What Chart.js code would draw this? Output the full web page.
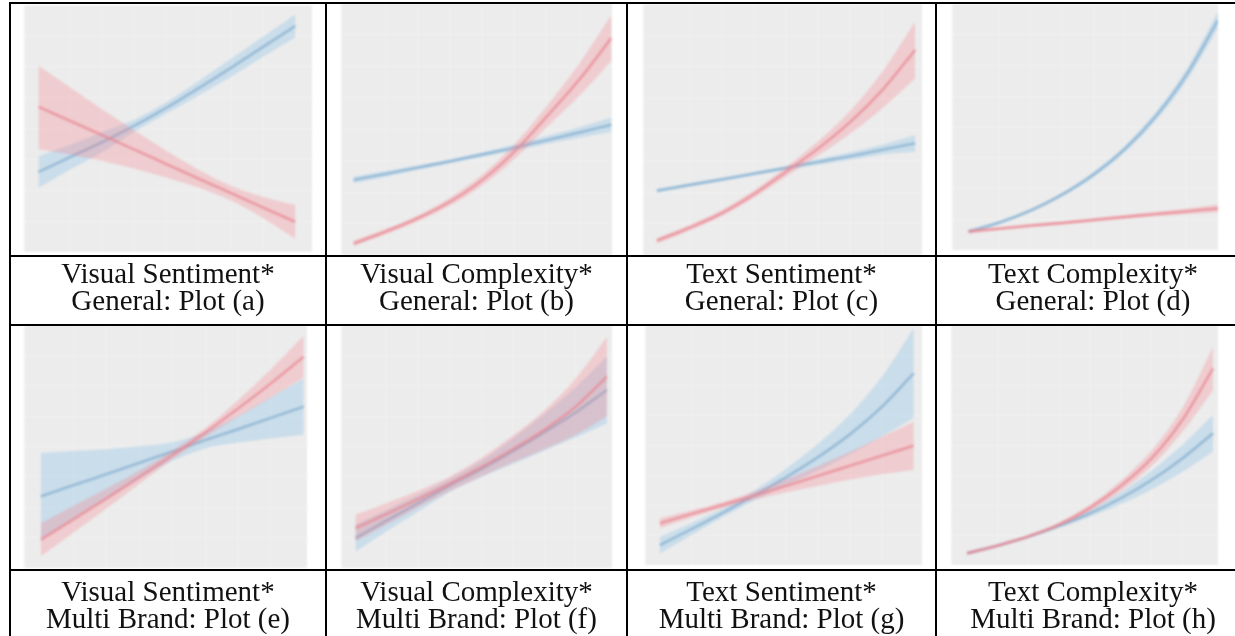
<!DOCTYPE html>
<html>
<head>
<meta charset="utf-8">
<script src="https://cdn.jsdelivr.net/npm/chart.js@4/dist/chart.umd.min.js"></script>
<style>
  body { margin: 0; background: #fff; width: 1235px; height: 636px; overflow: hidden; position: relative; }
  .panel { position: absolute; filter: blur(1px); }
  .rule { position: absolute; background: #000; }
  .caption {
    position: absolute; text-align: center; color: #111;
    font-family: "Liberation Serif", "DejaVu Serif", serif;
    font-size: 29px; line-height: 27px; white-space: nowrap;
  }
</style>
</head>
<body>
<script>
// Shared x steps for every fitted curve
const xSteps = [0, 1, 2, 3, 4, 5, 6, 7, 8];

// (a) Visual Sentiment - General
const aBlueMid = [32.4, 38.5, 44.6, 51.2, 58.5, 66.4, 74.6, 83.1, 91.5];
const aBlueLo  = [26.0, 33.5, 40.5, 48.8, 56.2, 63.5, 71.0, 79.0, 86.8];
const aBlueHi  = [38.8, 43.4, 48.6, 53.6, 60.8, 69.3, 78.2, 87.2, 96.2];
const aRedMid  = [58.8, 53.0, 47.2, 41.4, 35.5, 29.6, 23.8, 18.0, 12.2];
const aRedLo   = [41.6, 39.5, 36.8, 33.7, 30.1, 26.0, 20.8, 13.7, 5.4];
const aRedHi   = [75.5, 66.5, 57.6, 49.1, 40.9, 33.2, 26.8, 22.3, 19.0];

// (b) Visual Complexity - General
const bBlueMid = [29.8, 32.2, 34.7, 37.2, 39.9, 42.6, 45.6, 48.6, 51.7];
const bBlueLo  = [28.5, 31.1, 33.8, 36.4, 39.0, 41.4, 44.0, 46.5, 48.8];
const bBlueHi  = [31.1, 33.3, 35.6, 38.0, 40.8, 43.8, 47.2, 50.7, 54.6];
const bRedMid  = [4.6, 9.3, 14.6, 21.2, 29.8, 41.1, 55.0, 69.5, 86.1];
const bRedLo   = [3.5, 8.2, 13.4, 19.6, 27.7, 38.2, 50.8, 63.1, 77.1];
const bRedHi   = [5.7, 10.4, 15.8, 22.8, 31.9, 44.0, 59.2, 75.9, 95.1];

// (c) Text Sentiment - General
const cBlueMid = [25.6, 27.9, 30.1, 32.4, 34.7, 37.1, 39.4, 42.0, 44.5];
const cBlueLo  = [24.8, 27.2, 29.4, 31.7, 33.9, 36.0, 37.9, 40.0, 41.2];
const cBlueHi  = [26.4, 28.6, 30.8, 33.1, 35.5, 38.2, 40.9, 44.0, 47.8];
const cRedMid  = [5.7, 10.8, 16.6, 24.2, 33.2, 42.5, 53.1, 66.0, 81.7];
const cRedLo   = [4.6, 9.7, 15.4, 22.7, 31.3, 39.6, 48.5, 58.7, 70.4];
const cRedHi   = [6.8, 11.9, 17.8, 25.7, 35.1, 45.4, 57.7, 73.3, 93.0];

// (d) Text Complexity - General
const dBlueMid = [7.5, 11.2, 16.1, 22.5, 30.6, 40.9, 54.3, 71.4, 93.5];
const dBlueLo  = [6.7, 10.5, 15.4, 21.7, 29.5, 39.5, 52.5, 69.0, 90.1];
const dBlueHi  = [8.3, 11.9, 16.8, 23.3, 31.7, 42.3, 56.1, 73.8, 96.9];
const dRedMid  = [7.5, 8.7, 9.9, 11.0, 12.2, 13.4, 14.6, 15.7, 16.9];
const dRedLo   = [6.7, 8.0, 9.2, 10.3, 11.5, 12.6, 13.7, 14.5, 15.3];
const dRedHi   = [8.3, 9.4, 10.6, 11.7, 12.9, 14.2, 15.5, 16.9, 18.5];

// (e) Visual Sentiment - Multi Brand
const eBlueMid = [29.5, 34.1, 38.6, 43.3, 47.9, 52.6, 57.1, 61.8, 66.4];
const eBlueLo  = [11.7, 20.1, 28.3, 36.5, 44.1, 49.2, 51.6, 53.3, 54.8];
const eBlueHi  = [47.3, 48.1, 48.9, 50.1, 51.7, 56.0, 62.6, 70.3, 78.0];
const eRedMid  = [11.6, 20.1, 28.6, 37.4, 46.4, 55.7, 65.6, 76.0, 87.0];
const eRedLo   = [4.8, 14.6, 24.5, 34.7, 44.6, 53.9, 62.2, 70.2, 78.5];
const eRedHi   = [18.4, 25.6, 32.7, 40.1, 48.2, 57.5, 69.0, 81.8, 95.5];

// (f) Visual Complexity - Multi Brand
const fBlueMid = [12.3, 19.6, 26.7, 34.0, 40.7, 48.0, 55.8, 64.0, 73.3];
const fBlueLo  = [6.8, 15.2, 23.3, 31.3, 37.3, 42.8, 48.3, 53.7, 59.6];
const fBlueHi  = [17.8, 24.0, 30.1, 36.7, 44.1, 53.2, 63.3, 74.3, 87.0];
const fRedMid  = [16.4, 22.3, 28.4, 34.7, 41.5, 48.9, 56.8, 66.3, 78.8];
const fRedLo   = [10.9, 17.9, 25.0, 31.7, 37.7, 43.4, 48.9, 54.7, 62.4];
const fRedHi   = [21.9, 26.7, 31.8, 37.7, 45.3, 54.4, 64.7, 77.9, 95.2];

// (g) Text Sentiment - Multi Brand
const gBlueMid = [8.3, 15.0, 21.9, 29.2, 36.8, 45.1, 54.6, 66.0, 79.9];
const gBlueLo  = [4.8, 12.5, 20.1, 27.1, 33.3, 39.5, 46.3, 53.5, 61.2];
const gBlueHi  = [11.8, 17.5, 23.7, 31.3, 40.3, 50.7, 62.9, 78.5, 98.6];
const gRedMid  = [17.4, 21.3, 25.1, 29.0, 33.1, 37.2, 41.4, 45.6, 49.7];
const gRedLo   = [15.3, 19.8, 23.9, 27.3, 30.3, 33.0, 35.6, 37.8, 39.7];
const gRedHi   = [19.5, 22.8, 26.4, 30.7, 35.9, 41.4, 47.2, 53.4, 59.7];

// (h) Text Complexity - Multi Brand
const hBlueMid = [4.9, 8.1, 11.8, 16.3, 21.5, 27.8, 35.4, 44.4, 54.9];
const hBlueLo  = [4.2, 7.4, 11.1, 15.5, 20.1, 25.3, 31.5, 38.8, 47.3];
const hBlueHi  = [5.6, 8.8, 12.5, 17.1, 22.9, 30.3, 39.3, 50.0, 62.5];
const hRedMid  = [4.9, 8.1, 11.9, 16.9, 23.8, 32.9, 44.4, 60.4, 81.9];
const hRedLo   = [4.2, 7.4, 11.2, 16.1, 22.4, 30.7, 41.1, 55.4, 72.9];
const hRedHi   = [5.6, 8.8, 12.6, 17.7, 25.2, 35.1, 47.7, 65.4, 90.9];

// Caption text
const measureNames = ['Visual Sentiment*', 'Visual Complexity*', 'Text Sentiment*', 'Text Complexity*'];
const groupNames = ['General', 'Multi Brand'];
const plotLetters = ['a', 'b', 'c', 'd', 'e', 'f', 'g', 'h'];

// Table geometry
const colEdges = [10, 326, 627, 936, 1250];
const rowLines = [3, 256, 325, 570];
const captionTops = [260, 578];

// Panel placement and x range of each plot
const panels = [
  { left: 24,  top: 5,   w: 288, h: 247, xMin: -0.45, xMax: 8.52, blue: [aBlueLo, aBlueMid, aBlueHi], red: [aRedLo, aRedMid, aRedHi] },
  { left: 341, top: 3,   w: 271, h: 252, xMin: -0.39, xMax: 8.02, blue: [bBlueLo, bBlueMid, bBlueHi], red: [bRedLo, bRedMid, bRedHi] },
  { left: 643, top: 4,   w: 279, h: 251, xMin: -0.43, xMax: 8.21, blue: [cBlueLo, cBlueMid, cBlueHi], red: [cRedLo, cRedMid, cRedHi] },
  { left: 952, top: 4,   w: 266, h: 246, xMin: -0.53, xMax: 8.0,  blue: [dBlueLo, dBlueMid, dBlueHi], red: [dRedLo, dRedMid, dRedHi] },
  { left: 24,  top: 325, w: 283, h: 243, xMin: -0.51, xMax: 8.1,  blue: [eBlueLo, eBlueMid, eBlueHi], red: [eRedLo, eRedMid, eRedHi] },
  { left: 341, top: 325, w: 271, h: 243, xMin: -0.46, xMax: 8.16, blue: [fBlueLo, fBlueMid, fBlueHi], red: [fRedLo, fRedMid, fRedHi] },
  { left: 645, top: 325, w: 277, h: 240, xMin: -0.47, xMax: 8.26, blue: [gBlueLo, gBlueMid, gBlueHi], red: [gRedLo, gRedMid, gRedHi] },
  { left: 951, top: 325, w: 267, h: 240, xMin: -0.52, xMax: 8.16, blue: [hBlueLo, hBlueMid, hBlueHi], red: [hRedLo, hRedMid, hRedHi] }
];

const styles = {
  blue: { fill: 'rgba(140, 195, 230, 0.36)', line: 'rgba(130, 165, 195, 0.8)' },
  red:  { fill: 'rgba(245, 130, 140, 0.3)', line: 'rgba(228, 140, 152, 0.8)' }
};

// Grey ggplot-like panel background
const panelBg = {
  id: 'panelBg',
  beforeDraw(chart) {
    const { ctx, chartArea: a } = chart;
    ctx.save();
    ctx.fillStyle = '#ececec';
    ctx.fillRect(a.left, a.top, a.right - a.left, a.bottom - a.top);
    ctx.restore();
  }
};

function toPoints(values) {
  return values.map((v, i) => ({ x: xSteps[i], y: v }));
}

// lower edge, upper edge filled back to it, then the fitted line
function bandDatasets(series, style) {
  const common = { pointRadius: 0, cubicInterpolationMode: 'monotone' };
  return [
    { ...common, data: toPoints(series[0]), borderWidth: 0, fill: false },
    { ...common, data: toPoints(series[2]), borderWidth: 0, backgroundColor: style.fill, fill: '-1' },
    { ...common, data: toPoints(series[1]), borderColor: style.line, borderWidth: 2.4, fill: false }
  ];
}

function addRule(x, y, w, h) {
  const d = document.createElement('div');
  d.className = 'rule';
  Object.assign(d.style, { left: x + 'px', top: y + 'px', width: w + 'px', height: h + 'px' });
  document.body.appendChild(d);
}

panels.forEach((p) => {
  const canvas = document.createElement('canvas');
  canvas.className = 'panel';
  canvas.width = p.w;
  canvas.height = p.h;
  Object.assign(canvas.style, { left: p.left + 'px', top: p.top + 'px' });
  document.body.appendChild(canvas);

  const gridOpts = { color: 'rgba(255, 255, 255, 0.35)', lineWidth: 1, drawTicks: false };
  new Chart(canvas.getContext('2d'), {
    type: 'line',
    data: { datasets: [...bandDatasets(p.red, styles.red), ...bandDatasets(p.blue, styles.blue)] },
    options: {
      responsive: false,
      animation: false,
      layout: { padding: 0 },
      plugins: { legend: { display: false }, tooltip: { enabled: false } },
      scales: {
        x: { type: 'linear', min: p.xMin, max: p.xMax, ticks: { display: false, stepSize: 1 }, grid: gridOpts, border: { display: false } },
        y: { min: 0, max: 100, ticks: { display: false, stepSize: 12.5 }, grid: gridOpts, border: { display: false } }
      }
    },
    plugins: [panelBg]
  });
});

// Table rules
rowLines.forEach((y) => addRule(colEdges[0], y - 1, 1235 - colEdges[0], 2));
colEdges.forEach((x) => addRule(x - 1, rowLines[0] - 1, 2, 636));

// Captions under each plot
plotLetters.forEach((letter, i) => {
  const col = i % 4;
  const row = Math.floor(i / 4);
  const cap = document.createElement('div');
  cap.className = 'caption';
  Object.assign(cap.style, {
    left: colEdges[col] + 'px',
    width: (colEdges[col + 1] - colEdges[col]) + 'px',
    top: captionTops[row] + 'px'
  });
  cap.innerHTML = measureNames[col] + '<br>' + groupNames[row] + ': Plot (' + letter + ')';
  document.body.appendChild(cap);
});
</script>
</body>
</html>
